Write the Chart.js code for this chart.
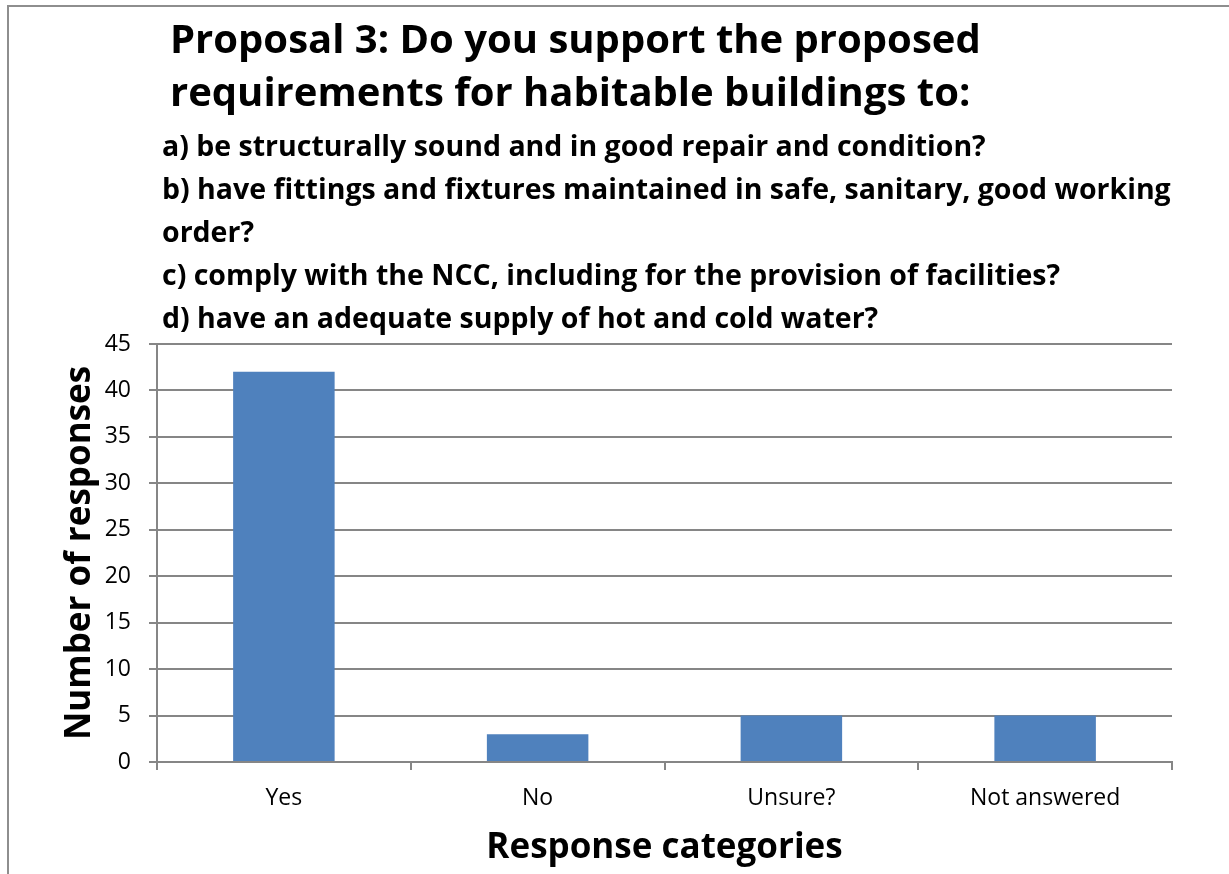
<!DOCTYPE html>
<html>
<head>
<meta charset="utf-8">
<title>Proposal 3 responses</title>
<script src="https://cdn.jsdelivr.net/npm/chart.js@4/dist/chart.umd.min.js"></script>
<style>
    html, body { margin: 0; padding: 0; background: #ffffff; overflow: hidden; }
    #responsesChart { position: absolute; left: 0; top: 0; }
    #frame {
        position: absolute; left: 7px; top: 5px;
        width: 1300px; height: 1000px;
        border: 2px solid #8e8e8e;
        pointer-events: none;
    }
</style>
</head>
<body>
<canvas id="responsesChart" width="1229" height="874"></canvas>
<div id="frame"></div>
<script>
const categories = ['Yes', 'No', 'Unsure?', 'Not answered']
const responses = [42, 3, 5, 5]
const yTickValues = [0, 5, 10, 15, 20, 25, 30, 35, 40, 45]

const titleLines = [
    'Proposal 3: Do you support the proposed',
    'requirements for habitable buildings to:'
]
const questionLines = [
    'a) be structurally sound and in good repair and condition?',
    'b) have fittings and fixtures maintained in safe, sanitary, good working',
    'order?',
    'c) comply with the NCC, including for the provision of facilities?',
    'd) have an adequate supply of hot and cold water?'
]

const gridGrey = '#868686'
const fontFamily = "'Open Sans', sans-serif"

// heading block: big question plus the four sub-questions
const headerPlugin = {
    id: 'header',
    afterDraw(chart) {
        const ctx = chart.ctx
        ctx.save()
        ctx.fillStyle = '#000000'
        ctx.textAlign = 'left'
        ctx.textBaseline = 'alphabetic'
        ctx.font = 'bold 40px ' + fontFamily
        titleLines.forEach((line, i) => ctx.fillText(line, 170, 53 + i * 53))
        ctx.font = 'bold 28.5px ' + fontFamily
        questionLines.forEach((line, i) => ctx.fillText(line, 162, 156 + i * 43))
        ctx.restore()
    }
}

document.addEventListener('DOMContentLoaded', function () {
    const canvas = document.getElementById('responsesChart')

    const barChartData = {
        labels: categories,
        datasets: [
            {
                label: 'Number of responses',
                data: responses,
                backgroundColor: '#4F81BD',
                borderWidth: 0,
                barPercentage: 0.4,
                categoryPercentage: 1.0,
            },
        ]
    }

    const barChartConfig = {
        type: 'bar',
        data: barChartData,
        options: {
            responsive: false,
            animation: false,
            layout: {
                padding: { top: 344, right: 57, bottom: 0, left: 0 }
            },
            scales: {
                x: {
                    grid: {
                        display: true,
                        drawOnChartArea: false,
                        tickLength: 8,
                        color: gridGrey,
                        lineWidth: 2,
                    },
                    border: { color: gridGrey, width: 2 },
                    ticks: {
                        color: '#000000',
                        padding: 15,
                        font: { family: fontFamily, size: 23 },
                    },
                    title: {
                        display: true,
                        text: 'Response categories',
                        color: '#000000',
                        padding: { top: 0, bottom: 5 },
                        font: { family: fontFamily, size: 35, weight: 'bold' },
                    },
                    afterFit: (scale) => { scale.height = 112 },
                },
                y: {
                    min: 0,
                    max: 45,
                    afterBuildTicks: (scale) => {
                        scale.ticks = yTickValues.map(v => ({ value: v }))
                    },
                    grid: {
                        color: gridGrey,
                        lineWidth: 2,
                        tickLength: 8,
                    },
                    border: { color: gridGrey, width: 2 },
                    ticks: {
                        color: '#000000',
                        padding: 18,
                        font: { family: fontFamily, size: 23 },
                    },
                    title: {
                        display: true,
                        text: 'Number of responses',
                        color: '#000000',
                        padding: { top: 59, bottom: 0 },
                        font: { family: fontFamily, size: 35, weight: 'bold' },
                    },
                    afterFit: (scale) => { scale.width = 157 },
                }
            },
            plugins: {
                legend: { display: false },
                tooltip: { enabled: false },
            }
        },
        plugins: [headerPlugin],
    }

    new Chart(canvas, barChartConfig)
})
</script>
</body>
</html>
